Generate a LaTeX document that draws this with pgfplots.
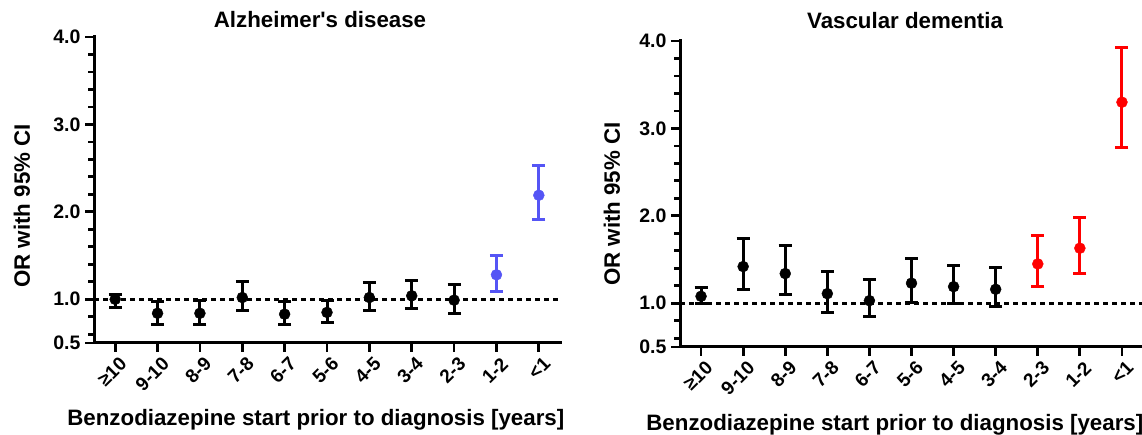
\documentclass[border=0pt]{standalone}
\usepackage{pgfplots}
\pgfplotsset{compat=1.18}
\usepackage{pgfplotstable}
\usepackage{fontspec}
\setmainfont{Liberation Sans}

\definecolor{adblue}{RGB}{85,85,245}
\definecolor{vdred}{RGB}{255,0,0}

% x = category (0 = >=10 ... 10 = <1), y = OR, lo/hi = 95% CI
\pgfplotstableread{
x y lo hi
0 1.00 0.91 1.05
1 0.84 0.71 0.98
2 0.84 0.71 0.99
3 1.02 0.87 1.20
4 0.83 0.71 0.97
5 0.85 0.73 0.99
6 1.02 0.87 1.19
7 1.04 0.89 1.22
8 0.99 0.84 1.17
}\ADblack
\pgfplotstableread{
x y lo hi
9  1.28 1.09 1.50
10 2.19 1.91 2.53
}\ADblue
\pgfplotstableread{
x y lo hi
0 1.08 1.00 1.18
1 1.42 1.16 1.74
2 1.34 1.10 1.66
3 1.11 0.90 1.36
4 1.03 0.85 1.27
5 1.23 1.01 1.51
6 1.19 1.00 1.43
7 1.16 0.96 1.41
}\VDblack
\pgfplotstableread{
x y lo hi
8  1.45 1.19 1.77
9  1.63 1.34 1.98
10 3.30 2.78 3.92
}\VDred

\pgfplotsset{
  orplot/.style={
    scale only axis,
    anchor=south west,
    axis lines=left,
    axis line style={-, line width=3pt, line cap=rect},
    xmin=-0.5, xmax=10.5, ymin=0.5, ymax=4,
    xtick={0,...,10},
    xticklabels={≥10,9-10,8-9,7-8,6-7,5-6,4-5,3-4,2-3,1-2,<1},
    ytick={0.5,1,2,3,4},
    yticklabels={0.5,1.0,2.0,3.0,4.0},
    minor ytick={0.6,0.8,1.2,1.4,1.6,1.8,2.2,2.4,2.6,2.8,3.2,3.4,3.6,3.8},
    tick align=outside,
    major tick length=9pt,
    minor tick length=6pt,
    every tick/.style={black, line width=2.8pt},
    every minor tick/.style={black, line width=2.8pt},
    x tick label style={rotate=45, anchor=east, xshift=3pt, yshift=-12pt,
      font=\bfseries\fontsize{19}{19}\selectfont},
    y tick label style={font=\bfseries\fontsize{19.5}{19.5}\selectfont, xshift=-1pt},
    label style={font=\bfseries\fontsize{22.3}{22.3}\selectfont},
    title style={font=\bfseries\fontsize{22.3}{22.3}\selectfont, anchor=base},
    ylabel={OR with 95\% CI},
    xlabel={Benzodiazepine start prior to diagnosis [years]},
    clip=false,
  },
  orpoints/.style={
    only marks, mark=*, mark size=5.5pt, #1,
    error bars/.cd, y dir=both, y explicit,
    error bar style={line width=3pt, #1},
    error mark options={rotate=90, mark size=6.5pt, line width=3pt, #1},
  },
}

\begin{document}
\begin{tikzpicture}
\path[use as bounding box] (0pt,0pt) rectangle (1142pt,435pt);

\begin{axis}[orplot,
  at={(94pt,92pt)}, width=466pt, height=306pt,
  title={Alzheimer\textquotesingle s disease},
  title style={at={(axis description cs:0.485,1)}, yshift=3pt},
  ylabel style={at={(axis description cs:-0.1545,0.448)}, anchor=center},
  xlabel style={at={(axis description cs:0.476,-0.252)}, anchor=center},
]
\addplot[black, line width=3.5pt, dash pattern=on 4.5pt off 4.5pt] coordinates {(-0.5,1) (10.5,1)};
\addplot[orpoints=black] table[x=x, y=y,
  y error plus expr=\thisrow{hi}-\thisrow{y},
  y error minus expr=\thisrow{y}-\thisrow{lo}] {\ADblack};
\addplot[orpoints=adblue] table[x=x, y=y,
  y error plus expr=\thisrow{hi}-\thisrow{y},
  y error minus expr=\thisrow{y}-\thisrow{lo}] {\ADblue};
\end{axis}

\begin{axis}[orplot,
  at={(680pt,88pt)}, width=463pt, height=306pt,
  title={Vascular dementia},
  title style={at={(axis description cs:0.486,1)}, yshift=6pt},
  ylabel style={at={(axis description cs:-0.147,0.467)}, anchor=center},
  xlabel style={at={(axis description cs:0.464,-0.255)}, anchor=center},
]
\addplot[black, line width=3.5pt, dash pattern=on 4.5pt off 4.5pt] coordinates {(-0.5,1) (10.5,1)};
\addplot[orpoints=black] table[x=x, y=y,
  y error plus expr=\thisrow{hi}-\thisrow{y},
  y error minus expr=\thisrow{y}-\thisrow{lo}] {\VDblack};
\addplot[orpoints=vdred] table[x=x, y=y,
  y error plus expr=\thisrow{hi}-\thisrow{y},
  y error minus expr=\thisrow{y}-\thisrow{lo}] {\VDred};
\end{axis}
\end{tikzpicture}
\end{document}
